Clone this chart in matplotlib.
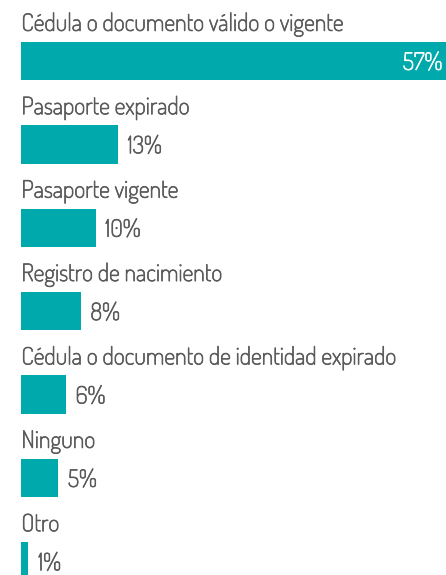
import matplotlib
matplotlib.use("Agg")
import matplotlib.pyplot as plt
import matplotlib.patheffects as pe

labels = ['Cédula o documento válido o vigente', 'Pasaporte expirado', 'Pasaporte vigente',
          'Registro de nacimiento', 'Cédula o documento de identidad expirado', 'Ninguno', 'Otro']
values = [57, 13, 10, 8, 6, 5, 1]

plt.rcParams['font.family'] = ['Dosis', 'DejaVu Sans']

teal = '#00a9ab'
grey = '#5a5a5a'

fig = plt.figure(figsize=(4.46, 5.75), dpi=100)
ax = fig.add_axes([0, 0, 1, 1])

pos = list(range(len(values)))
bh = 0.46
ax.barh(pos, values, height=bh, color=teal)

# Dosis only ships the light weight here, a thin stroke makes it look regular
thick = [pe.withStroke(linewidth=0.5, foreground=grey)]
thick_w = [pe.withStroke(linewidth=0.5, foreground='white')]

for i, (lab, v) in enumerate(zip(labels, values)):
    ax.text(0.05, i - bh / 2 - 0.13, lab, fontsize=17.3, color=grey, va='baseline', ha='left',
            path_effects=thick)
    if i == 0:
        ax.text(v - 0.5, i + 0.03, f'{v}%', fontsize=17.3, color='white', va='center', ha='right',
                path_effects=thick_w)
    else:
        ax.text(v + 1.3, i + 0.03, f'{v}%', fontsize=17.3, color=grey, va='center', ha='left',
                path_effects=thick)

ax.set_xlim(-2.82, 57)
ax.set_ylim(6.163, -0.731)
ax.axis('off')

fig.savefig('out.png', dpi=100)
